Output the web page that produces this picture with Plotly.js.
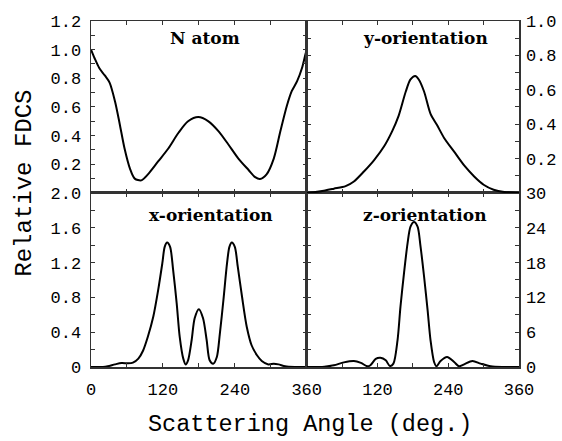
<!DOCTYPE html>
<html>
<head>
<meta charset="utf-8">
<script src="https://cdn.plot.ly/plotly-3.0.1.min.js"></script>
<style>html,body{margin:0;padding:0;background:#fff;}#chart{width:562px;height:441px;}</style>
</head>
<body>
<div id="chart"></div>
<script>
// ---- data ----
const nAtomAngle = [0,6,14,23,31,40,48,56,65,73,84,95,112,129,146,162,179,196,213,229,246,263,274,282,293,305,316,327,335,344,352,358,360];
const nAtomFDCS  = [1.0,0.94,0.87,0.82,0.77,0.64,0.48,0.31,0.17,0.10,0.088,0.13,0.22,0.31,0.42,0.50,0.53,0.50,0.43,0.34,0.24,0.16,0.11,0.097,0.13,0.24,0.43,0.61,0.71,0.78,0.87,0.97,1.0];

const yOrientAngle = [0,12,29,46,66,80,97,114,131,145,156,168,176,184,190,199,210,221,233,250,267,284,300,317,335,357,360];
const yOrientFDCS  = [0,0.004,0.013,0.025,0.04,0.067,0.125,0.19,0.27,0.36,0.45,0.59,0.66,0.68,0.66,0.59,0.46,0.395,0.32,0.24,0.16,0.096,0.048,0.019,0.006,0.002,0];

const xOrientAngle = [0,20,28,40,51,62,70,79,87,95,104,112,119,123,127,132,137,143,148,154,158,162,168,173,180,187,193,198,204,210,215,221,227,231,235,240,245,252,260,268,277,285,296,305,313,324,340,360];
const xOrientFDCS  = [0,0,0.008,0.03,0.046,0.042,0.05,0.096,0.19,0.35,0.58,0.88,1.19,1.38,1.43,1.38,1.12,0.73,0.35,0.096,0.03,0.077,0.31,0.56,0.665,0.56,0.31,0.077,0.038,0.115,0.38,0.77,1.19,1.38,1.43,1.38,1.15,0.81,0.46,0.25,0.135,0.07,0.03,0.038,0.03,0.008,0,0];

const zOrientAngle = [0,30,46,63,80,92,103,108,117,125,134,141,147,154,159,165,171,176,182,188,193,199,205,210,216,220,227,238,250,258,267,281,295,312,334,360];
const zOrientFDCS  = [0,0.05,0.29,0.8,1.04,0.7,0.12,0.3,1.4,1.6,1.15,0.17,0.58,4.6,10.4,16.2,21.3,24.2,25.0,24.2,20.8,15.6,9.8,4.6,0.87,0.12,1.04,1.73,0.87,0.12,0.46,1.04,0.58,0.12,0,0];

const panelLabels = ["N atom","y-orientation","x-orientation","z-orientation"];
const xTitle = "Scattering Angle (deg.)";
const yTitle = "Relative FDCS";

const ticksTL = [0.2,0.4,0.6,0.8,1.0,1.2];
const ticksTR = [0.2,0.4,0.6,0.8,1.0];
const ticksBL = [0,0.4,0.8,1.2,1.6,2.0];
const ticksBR = [0,6,12,18,24,30];
const xTicksL = [0,120,240,360];
const xTicksR = [120,240,360];

// ---- drawing ----
const lineStyle = {color:'#000', width:2, shape:'spline', smoothing:0.8};
function tr(x,y,xa,ya){return {x:x,y:y,xaxis:xa,yaxis:ya,type:'scatter',mode:'lines',line:lineStyle,hoverinfo:'skip'};}

const tickFont = {family:'Liberation Mono, monospace', size:17, color:'#000'};
const axisLine = {showline:true, linecolor:'#333', linewidth:1.5, mirror:'ticks', ticks:'inside', ticklen:4, tickwidth:1, tickcolor:'#333', zeroline:false, showgrid:false, tickfont:tickFont, fixedrange:true};
function ax(extra){return Object.assign({}, axisLine, extra);}
function fmt(a,d){return a.map(v=> v===0 ? '0' : v.toFixed(d));}

const xd1=[0,0.504], xd2=[0.504,1], yd1=[0,0.503], yd2=[0.503,1];

const layout = {
  width:562, height:441,
  margin:{l:91, r:43, t:21, b:74, pad:0},
  paper_bgcolor:'#fff', plot_bgcolor:'#fff',
  showlegend:false,
  xaxis:  ax({domain:xd1, anchor:'y',  range:[0,360], tickmode:'array', tickvals:xTicksL, ticktext:xTicksL.map(String), ticklabelstandoff:6, minor:{dtick:60, tick0:0, ticks:'inside', ticklen:4, tickcolor:'#333'}}),
  xaxis2: ax({domain:xd2, anchor:'y2', range:[0,360], tickmode:'array', tickvals:xTicksR, ticktext:xTicksR.map(String), ticklabelstandoff:6, minor:{dtick:60, tick0:0, ticks:'inside', ticklen:4, tickcolor:'#333'}}),
  xaxis3: ax({domain:xd1, anchor:'y3', range:[0,360], showticklabels:false, dtick:60, tick0:0}),
  xaxis4: ax({domain:xd2, anchor:'y4', range:[0,360], showticklabels:false, dtick:60, tick0:0}),
  yaxis:  ax({domain:yd1, anchor:'x',  range:[0,2], tickmode:'array', tickvals:ticksBL, ticktext:fmt(ticksBL,1), ticklabelstandoff:5, minor:{dtick:0.2, tick0:0, ticks:'inside', ticklen:4, tickcolor:'#333'}}),
  yaxis2: ax({domain:yd1, anchor:'x2', side:'right', range:[0,30], tickmode:'array', tickvals:ticksBR, ticktext:ticksBR.map(String), ticklabelstandoff:2, minor:{dtick:3, tick0:0, ticks:'inside', ticklen:4, tickcolor:'#333'}}),
  yaxis3: ax({domain:yd2, anchor:'x3', range:[0,1.2], tickmode:'array', tickvals:ticksTL, ticktext:fmt(ticksTL,1), ticklabelstandoff:5, minor:{dtick:0.1, tick0:0, ticks:'inside', ticklen:4, tickcolor:'#333'}}),
  yaxis4: ax({domain:yd2, anchor:'x4', side:'right', range:[0,1.0], tickmode:'array', tickvals:ticksTR, ticktext:fmt(ticksTR,1), ticklabelstandoff:2, minor:{dtick:0.1, tick0:0, ticks:'inside', ticklen:4, tickcolor:'#333'}}),
  annotations:[
    {text:'<b>'+panelLabels[0]+'</b>', xref:'paper', yref:'paper', x:0.266, y:0.951, showarrow:false, xanchor:'center', yanchor:'middle', font:{family:'DejaVu Serif, serif', size:17, color:'#000'}},
    {text:'<b>'+panelLabels[1]+'</b>', xref:'paper', yref:'paper', x:0.782, y:0.951, showarrow:false, xanchor:'center', yanchor:'middle', font:{family:'DejaVu Serif, serif', size:17, color:'#000'}},
    {text:'<b>'+panelLabels[2]+'</b>', xref:'paper', yref:'paper', x:0.280, y:0.440, showarrow:false, xanchor:'center', yanchor:'middle', font:{family:'DejaVu Serif, serif', size:17, color:'#000'}},
    {text:'<b>'+panelLabels[3]+'</b>', xref:'paper', yref:'paper', x:0.781, y:0.440, showarrow:false, xanchor:'center', yanchor:'middle', font:{family:'DejaVu Serif, serif', size:17, color:'#000'}},
    {text:xTitle, xref:'paper', yref:'paper', x:0.512, y:-0.165, showarrow:false, xanchor:'center', yanchor:'middle', font:{family:'Liberation Mono, monospace', size:23.5, color:'#000'}},
    {text:yTitle, xref:'paper', yref:'paper', x:-0.154, y:0.530, showarrow:false, xanchor:'center', yanchor:'middle', textangle:-90, font:{family:'Liberation Mono, monospace', size:24, color:'#000'}}
  ]
};

const data = [
  tr(xOrientAngle, xOrientFDCS, 'x', 'y'),
  tr(zOrientAngle, zOrientFDCS, 'x2', 'y2'),
  tr(nAtomAngle, nAtomFDCS, 'x3', 'y3'),
  tr(yOrientAngle, yOrientFDCS, 'x4', 'y4')
];

Plotly.newPlot('chart', data, layout, {displayModeBar:false, staticPlot:true});
</script>
</body>
</html>
